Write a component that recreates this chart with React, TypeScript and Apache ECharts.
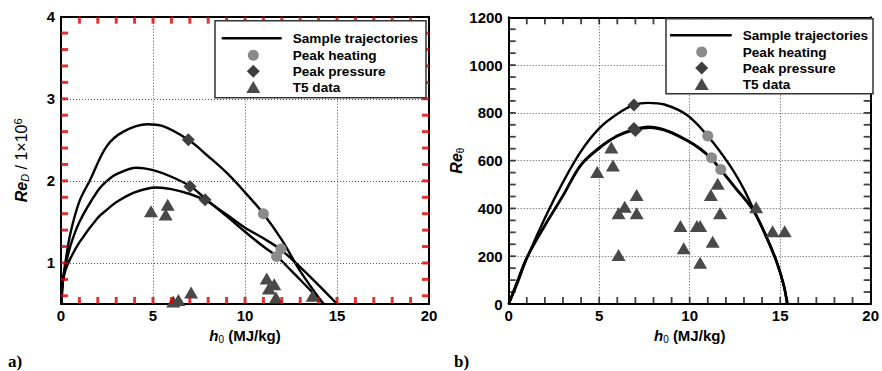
import React, { useEffect, useRef } from "react";
import * as echarts from "echarts";

// ---- Panel a): Re_D (×1e6) against total enthalpy h0 ----
const trajA1: [number, number][] = [
  [0.02, 0.5], [0.1, 0.78], [0.25, 1.02], [0.5, 1.35], [1, 1.75], [1.58, 2.01], [2.48, 2.42],
  [3.39, 2.6], [4.69, 2.69], [5.5, 2.67], [6.92, 2.5], [8, 2.3], [9, 2.1], [10, 1.86],
  [11, 1.6], [12, 1.28], [13, 0.9], [14.26, 0.5],
];
const trajA2: [number, number][] = [
  [0.02, 0.5], [0.1, 0.78], [0.25, 0.97], [0.5, 1.2], [1, 1.5], [2, 1.88], [2.5, 2.0],
  [3, 2.08], [4.11, 2.16], [5, 2.13], [6, 2.05], [7.05, 1.93], [7.86, 1.78], [9, 1.57],
  [10, 1.38], [11, 1.2], [11.72, 1.08], [12.5, 0.91], [13.5, 0.68], [14.3, 0.5],
];
const trajA3: [number, number][] = [
  [0.02, 0.5], [0.1, 0.76], [0.25, 0.92], [0.5, 1.05], [1, 1.25], [2, 1.55], [2.5, 1.65],
  [3, 1.74], [4, 1.86], [5.2, 1.92], [6, 1.9], [7, 1.84], [7.86, 1.76], [9, 1.59],
  [10, 1.43], [11, 1.3], [11.96, 1.16], [13, 0.95], [14, 0.73], [15, 0.5],
];
const heatingA: [number, number][] = [[11.0, 1.6], [11.96, 1.17], [11.72, 1.08]];
const pressureA: [number, number][] = [[6.92, 2.5], [7.01, 1.93], [7.83, 1.77]];
const t5A: [number, number][] = [
  [4.89, 1.63], [5.8, 1.71], [5.69, 1.59], [6.1, 0.53], [6.38, 0.55], [7.07, 0.64],
  [11.18, 0.81], [11.3, 0.69], [11.59, 0.74], [11.68, 0.58], [13.68, 0.6],
];
const yRangeA = [0.5, 4];
const yLabelsA = [1, 2, 3, 4];
const yTicksA = [0.6, 0.8, 1, 1.2, 1.4, 1.6, 1.8, 2, 2.2, 2.4, 2.6, 2.8, 3, 3.2, 3.4, 3.6, 3.8];
const yGridA = [1, 2, 3];

// ---- Panel b): Re_theta against total enthalpy h0 ----
const trajB1: [number, number][] = [
  [0, 0], [0.5, 90], [1, 190], [2, 360], [3, 510], [4, 640], [5, 735], [6, 795], [6.92, 833],
  [7.7, 842], [8.6, 835], [9.85, 791], [11.0, 703], [12.2, 582], [13, 480], [13.5, 400],
  [14.2, 285], [14.8, 175], [15.2, 75], [15.38, 0],
];
const trajB2: [number, number][] = [
  [0, 0], [0.5, 100], [1, 195], [2, 330], [3, 455], [4, 585], [5, 655], [6, 705], [6.92, 731],
  [7.7, 742], [8.8, 725], [9.85, 686], [10.6, 650], [11.21, 609], [11.7, 565], [12.5, 490],
  [13.5, 395], [14.2, 290], [14.8, 180], [15.2, 80], [15.38, 0],
];
const trajB3: [number, number][] = [
  [0, 0], [0.5, 98], [1, 192], [2, 327], [3, 452], [4, 581], [5, 651], [6, 702], [7.0, 729],
  [7.8, 738], [8.8, 722], [9.85, 683], [10.6, 647], [11.21, 606], [11.7, 562], [12.5, 487],
  [13.5, 392], [14.2, 287], [14.8, 177], [15.2, 77], [15.42, 0],
];
const heatingB: [number, number][] = [[11.0, 703], [11.21, 612], [11.72, 563]];
const pressureB: [number, number][] = [[6.92, 833], [6.92, 735], [7.0, 726]];
const t5B: [number, number][] = [
  [4.89, 553], [5.67, 655], [5.76, 580], [6.41, 407], [6.07, 380], [6.07, 205], [7.07, 456],
  [7.07, 380], [9.49, 326], [9.67, 233], [10.4, 326], [10.58, 326], [10.58, 173], [11.17, 456],
  [11.55, 503], [11.68, 380], [11.27, 261], [13.67, 405], [14.58, 305], [15.25, 305],
];
const yRangeB = [0, 1200];
const yTicksB = [
  50, 100, 150, 200, 250, 300, 350, 400, 450, 500, 550, 600,
  650, 700, 750, 800, 850, 900, 950, 1000, 1050, 1100, 1150,
];

// h0 axis range and tick marks shared by both panels
const xRange = [0, 20];
const xTicks = [1, 2, 3, 4, 5, 6, 7, 8, 9, 10, 11, 12, 13, 14, 15, 16, 17, 18, 19];

const legendNames = ["Sample trajectories", "Peak heating", "Peak pressure", "T5 data"];

const SANS = "Arial, Liberation Sans, Helvetica, sans-serif";
const SERIF = "Liberation Serif, Times New Roman, serif";
const CIRCLE_COLOR = "#8a8a8a";
const DIAMOND_COLOR = "#3e3e3e";
const TRIANGLE_COLOR = "#494949";
const TICK_LEN = 7;

const gridDot = () => ({ color: "#555", width: 1, type: [1, 2] });

const tickLabel = () => ({
  fontFamily: SANS, fontWeight: 700, fontSize: 15, color: "#000",
  formatter: (v: number) => String(v),
});

const frameLine = () => ({ show: true, onZero: false, lineStyle: { color: "#000", width: 2 } });

function frameX(grid: number, withLabels: boolean) {
  return {
    gridIndex: grid,
    type: "value" as const,
    min: xRange[0],
    max: xRange[1],
    interval: 5,
    position: withLabels ? ("bottom" as const) : ("top" as const),
    axisLine: frameLine(),
    axisTick: { show: false },
    axisLabel: withLabels ? { ...tickLabel(), margin: 4 } : { show: false },
    splitLine: withLabels ? { show: true, lineStyle: gridDot() } : { show: false },
    name: withLabels ? "{i|h}{sub|0}{b| (MJ/kg)}" : "",
    nameLocation: "middle" as const,
    nameGap: 19,
    nameTextStyle: {
      rich: {
        i: { fontFamily: SANS, fontStyle: "italic", fontWeight: 700, fontSize: 15, lineHeight: 18, color: "#000" },
        sub: { fontFamily: SANS, fontSize: 10, lineHeight: 9, verticalAlign: "bottom", color: "#000" },
        b: { fontFamily: SANS, fontWeight: 700, fontSize: 15, lineHeight: 18, color: "#000" },
      },
    },
  };
}

function App() {
  const ref = useRef<HTMLDivElement>(null);

  useEffect(() => {
    if (!ref.current) return;
    const chart = echarts.init(ref.current, undefined, { renderer: "svg" });

    const lineSeries = (data: [number, number][], grid: number) => ({
      type: "line",
      xAxisIndex: grid * 2,
      yAxisIndex: grid * 2,
      data,
      smooth: 0.35,
      showSymbol: false,
      lineStyle: { color: "#000", width: 2.4 },
      z: 3,
    });
    const scatter = (data: [number, number][], grid: number, symbol: string, size: number | number[], color: string) => ({
      type: "scatter",
      xAxisIndex: grid * 2,
      yAxisIndex: grid * 2,
      data,
      symbol,
      symbolSize: size,
      itemStyle: { color, opacity: 1 },
      z: 4,
    });
    // inward tick marks on one side of a frame, drawn as thin bar symbols
    const tickSide = (grid: number, data: number[][], vertical: boolean, offset: number[], w: number, color: string) => ({
      type: "scatter",
      xAxisIndex: grid * 2,
      yAxisIndex: grid * 2,
      data,
      symbol: "rect",
      symbolSize: vertical ? [w, TICK_LEN] : [TICK_LEN, w],
      symbolOffset: offset,
      itemStyle: { color },
      clip: false,
      z: 5,
    });
    const frameTicks = (grid: number, yTicks: number[], yRange: number[], w: number, color: string) => [
      tickSide(grid, xTicks.map((v) => [v, yRange[0]]), true, [0, -TICK_LEN / 2], w, color),
      tickSide(grid, xTicks.map((v) => [v, yRange[1]]), true, [0, TICK_LEN / 2], w, color),
      tickSide(grid, yTicks.map((v) => [xRange[0], v]), false, [TICK_LEN / 2, 0], w, color),
      tickSide(grid, yTicks.map((v) => [xRange[1], v]), false, [-TICK_LEN / 2, 0], w, color),
    ];

    // legend box drawn with graphic primitives
    const legend = (bx: number, by: number, bw: number, bh: number, lx1: number, lx2: number, sx: number, tx: number, rows: number[]) => ({
      type: "group",
      children: [
        { type: "rect", shape: { x: bx, y: by, width: bw, height: bh }, style: { fill: "#fff", stroke: "#333", lineWidth: 1.5 }, z: 100 },
        { type: "line", shape: { x1: lx1, y1: rows[0], x2: lx2, y2: rows[0] }, style: { stroke: "#000", lineWidth: 2.6 }, z: 101 },
        { type: "circle", shape: { cx: sx, cy: rows[1], r: 5.5 }, style: { fill: CIRCLE_COLOR }, z: 101 },
        { type: "polygon", shape: { points: [[sx, rows[2] - 6.5], [sx + 6.5, rows[2]], [sx, rows[2] + 6.5], [sx - 6.5, rows[2]]] }, style: { fill: DIAMOND_COLOR }, z: 101 },
        { type: "polygon", shape: { points: [[sx, rows[3] - 6], [sx + 7, rows[3] + 6], [sx - 7, rows[3] + 6]] }, style: { fill: TRIANGLE_COLOR }, z: 101 },
        ...legendNames.map((name, i) => ({
          type: "text",
          x: tx,
          y: rows[i],
          z: 101,
          style: { text: name, fontFamily: SANS, fontWeight: 700, fontSize: 13.6, fill: "#000", verticalAlign: "middle" },
        })),
      ],
    });

    chart.setOption({
      animation: false,
      grid: [
        { left: 61, top: 16.7, width: 368, height: 287.3 },
        { left: 508.7, top: 17.3, width: 368, height: 286.7 },
      ],
      xAxis: [frameX(0, true), frameX(0, false), frameX(1, true), frameX(1, false)],
      yAxis: [
        {
          gridIndex: 0, type: "value", min: yRangeA[0], max: yRangeA[1], position: "left",
          axisLine: frameLine(),
          axisTick: { show: false },
          axisLabel: { ...tickLabel(), margin: 6, customValues: yLabelsA },
          splitLine: { show: false },
          name: "{ri|Re}{sub|D}{n| / 1×10}{sup|6}",
          nameLocation: "middle", nameGap: 31,
          nameTextStyle: {
            rich: {
              ri: { fontFamily: SANS, fontStyle: "italic", fontWeight: 700, fontSize: 16, lineHeight: 18, color: "#000" },
              sub: { fontFamily: SANS, fontStyle: "italic", fontSize: 11, lineHeight: 9, verticalAlign: "bottom", color: "#000" },
              n: { fontFamily: SANS, fontSize: 16, lineHeight: 18, color: "#000" },
              sup: { fontFamily: SANS, fontSize: 11, lineHeight: 9, verticalAlign: "top", color: "#000" },
            },
          },
        },
        {
          gridIndex: 0, type: "value", min: yRangeA[0], max: yRangeA[1], position: "right",
          axisLine: frameLine(), axisTick: { show: false }, axisLabel: { show: false }, splitLine: { show: false },
        },
        {
          gridIndex: 1, type: "value", min: yRangeB[0], max: yRangeB[1], interval: 200, position: "left",
          axisLine: frameLine(),
          axisTick: { show: false },
          axisLabel: { ...tickLabel(), margin: 6 },
          splitLine: { show: true, lineStyle: gridDot() },
          name: "{ri|Re}{sub|θ}",
          nameLocation: "middle", nameGap: 31,
          nameTextStyle: {
            rich: {
              ri: { fontFamily: SANS, fontStyle: "italic", fontWeight: 700, fontSize: 16, lineHeight: 18, color: "#000" },
              sub: { fontFamily: SANS, fontSize: 10, lineHeight: 9, verticalAlign: "bottom", color: "#000" },
            },
          },
        },
        {
          gridIndex: 1, type: "value", min: yRangeB[0], max: yRangeB[1], interval: 200, position: "right",
          axisLine: frameLine(), axisTick: { show: false }, axisLabel: { show: false }, splitLine: { show: false },
        },
      ],
      series: [
        {
          // horizontal grid lines of panel a)
          type: "line", xAxisIndex: 0, yAxisIndex: 0, data: [], z: 1,
          markLine: {
            silent: true, symbol: "none", label: { show: false },
            lineStyle: gridDot(),
            data: yGridA.map((v) => ({ yAxis: v })),
          },
        },
        lineSeries(trajA1, 0),
        lineSeries(trajA2, 0),
        lineSeries(trajA3, 0),
        scatter(heatingA, 0, "circle", 11, CIRCLE_COLOR),
        scatter(pressureA, 0, "diamond", 13, DIAMOND_COLOR),
        scatter(t5A, 0, "triangle", [14, 12], TRIANGLE_COLOR),
        lineSeries(trajB1, 1),
        lineSeries(trajB2, 1),
        lineSeries(trajB3, 1),
        scatter(heatingB, 1, "circle", 11, CIRCLE_COLOR),
        scatter(pressureB, 1, "diamond", 13, DIAMOND_COLOR),
        scatter(t5B, 1, "triangle", [14, 12], TRIANGLE_COLOR),
        ...frameTicks(0, yTicksA, yRangeA, 3, "#d00"),
        ...frameTicks(1, yTicksB, yRangeB, 1.8, "#111"),
      ],
      graphic: [
        legend(215, 20.7, 211, 77, 221.7, 281.7, 253.3, 292.7, [38.3, 55.3, 71.3, 87]),
        legend(666, 18.7, 207, 75, 670, 731.7, 701.7, 742.7, [35.3, 52, 68, 84]),
        { type: "text", x: 8, y: 361, style: { text: "a)", fontFamily: SERIF, fontWeight: 700, fontSize: 17, fill: "#000", verticalAlign: "middle" } },
        { type: "text", x: 454, y: 361, style: { text: "b)", fontFamily: SERIF, fontWeight: 700, fontSize: 17, fill: "#000", verticalAlign: "middle" } },
      ],
    });

    return () => chart.dispose();
  }, []);

  return (
    <div
      ref={ref}
      style={{ position: "fixed", left: 0, top: 0, width: 882, height: 371, background: "#fff" }}
    />
  );
}

export default App;
